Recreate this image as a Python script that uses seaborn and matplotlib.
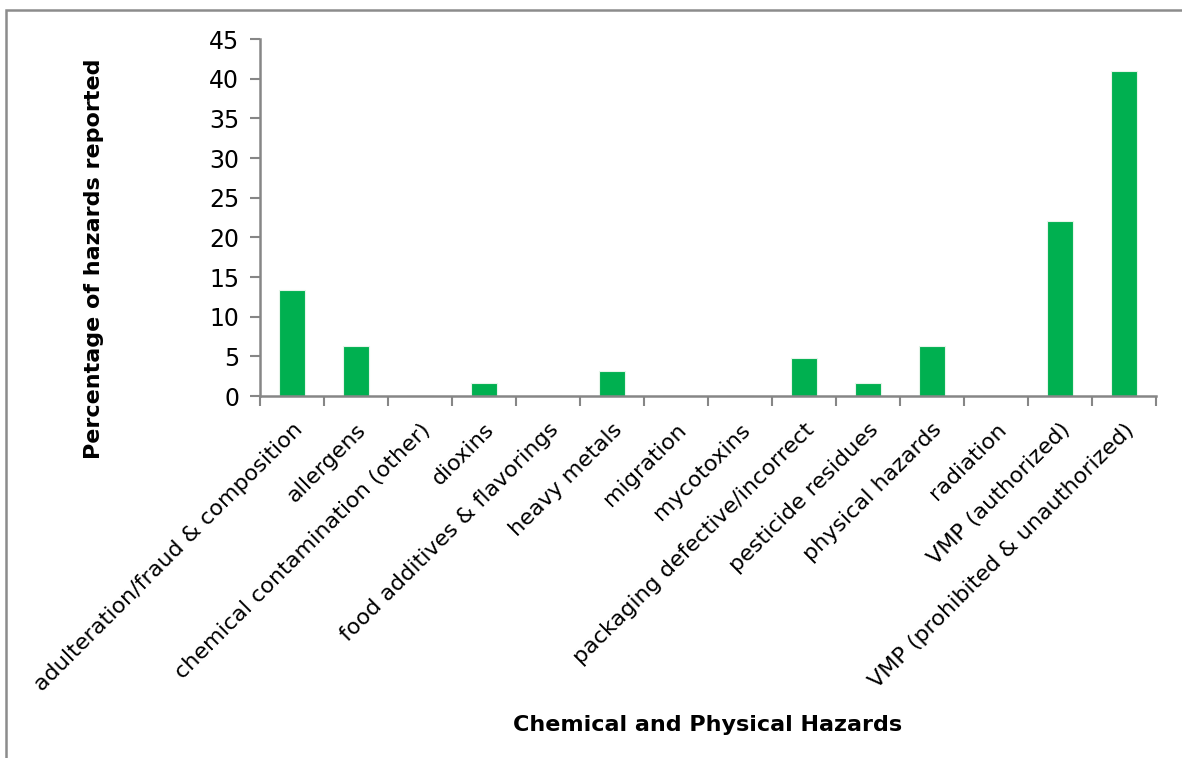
import seaborn as sns
import matplotlib.pyplot as plt
import matplotlib.ticker as ticker
from matplotlib.patches import Rectangle
import numpy as np
import pandas as pd


categories = ['adulteration/fraud & composition', 'allergens',
              'chemical contamination (other)', 'dioxins',
              'food additives & flavorings', 'heavy metals', 'migration',
              'mycotoxins', 'packaging defective/incorrect',
              'pesticide residues', 'physical hazards', 'radiation',
              'VMP (authorized)', 'VMP (prohibited & unauthorized)']
percentages = [13.4, 6.3, 0, 1.6, 0, 3.2, 0, 0, 4.8, 1.6, 6.3, 0, 22.1, 41.0]
y_ticks = [0, 5, 10, 15, 20, 25, 30, 35, 40, 45]

BAR_COLOR = '#00B050'
AXIS_COLOR = '#868686'


def make_bar_plot(ax, df):
    """Bar chart of hazard percentages, Excel-like look"""
    sns.barplot(x='hazard', y='percentage', data=df, color=BAR_COLOR,
                width=0.4, edgecolor='#e6f5ea', linewidth=0.8,
                saturation=1, ax=ax)

    ax.set(xlim=(-0.5, len(categories) - 0.5), ylim=(0, 45))
    ax.set_yticks(y_ticks)
    ax.set_yticklabels([str(t) for t in y_ticks], fontsize=17,
                       color='black')

    # tick marks sit between categories
    ax.set_xticks(range(len(categories)))
    ax.set_xticklabels(categories, rotation=45, ha='right',
                       rotation_mode='anchor', fontsize=16, color='black')
    ax.xaxis.set_minor_locator(ticker.FixedLocator(
        np.arange(-0.5, len(categories), 1.0)))
    ax.tick_params(axis='x', which='major', bottom=True, length=0, pad=17)
    ax.tick_params(axis='x', which='minor', bottom=True, length=7,
                   width=1.5, color=AXIS_COLOR, direction='out')
    ax.tick_params(axis='y', left=True, length=7, width=1.5,
                   color=AXIS_COLOR, direction='out', pad=8)

    for side in ['top', 'right']:
        ax.spines[side].set_visible(False)
    for side in ['left', 'bottom']:
        ax.spines[side].set_color(AXIS_COLOR)
        ax.spines[side].set_linewidth(1.8)

    ax.set_xlabel('Chemical and Physical Hazards', fontsize=16,
                  fontweight='bold', color='black', labelpad=14)
    ax.set_ylabel('Percentage of hazards reported', fontsize=16,
                  fontweight='bold', color='black')
    ax.yaxis.set_label_coords(-0.174, 0.384)


if __name__ == '__main__':
    sns.set_style('white')
    plt.rcParams['font.family'] = ['DejaVu Sans']

    df = pd.DataFrame({'hazard': categories, 'percentage': percentages})

    f = plt.figure(figsize=(11.82, 7.58), dpi=100)
    ax = f.add_axes([260 / 1182, 1 - 396 / 758,
                     (1156 - 260) / 1182, (396 - 39) / 758])
    make_bar_plot(ax, df)

    # chart area border (only left/top visible in the crop)
    f.patches.append(Rectangle((6 / 1182, -0.1), 1.2, 1.1 - 10 / 758,
                               transform=f.transFigure, fill=False,
                               edgecolor='#8c8c8c', linewidth=1.8))

    f.savefig('out.png', dpi=100)
